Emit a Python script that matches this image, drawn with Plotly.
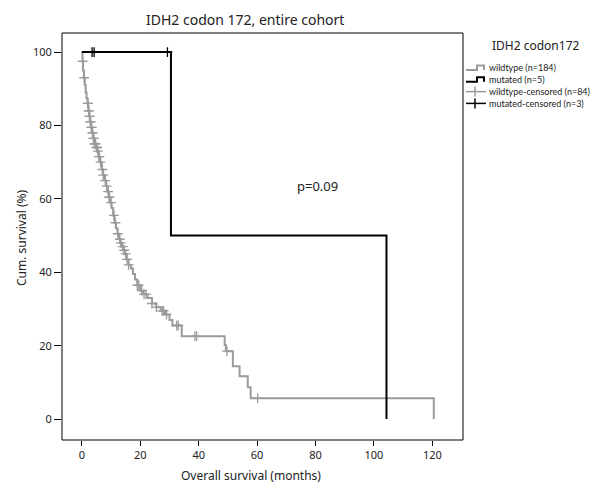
import numpy as np
import plotly.graph_objects as go

# Kaplan-Meier step points (months, % surviving)
wt_time = [0, 0.2, 0.4, 0.7, 1.0, 1.3, 1.6, 1.9, 2.2, 2.5, 2.8, 3.1, 3.5, 3.9, 4.3, 4.8,
           5.3, 5.8, 6.3, 6.8, 7.3, 7.8, 8.3, 8.7, 9.2, 9.7, 10.2, 10.7, 11.2, 11.7, 12.2,
           12.7, 13.2, 13.7, 14.2, 14.7, 15.3, 16.0, 16.8, 17.5, 18.2, 19.0, 20.0, 21.0,
           22.5, 24.0, 25.5, 27.0, 28.5, 30.0, 31.0, 34.2, 48.9, 49.3, 51.7, 54.0, 56.8,
           57.8, 120.5]
wt_surv = [100, 97.5, 95, 93, 91, 89, 87.5, 86, 84, 82.5, 81, 79.5, 78, 76.5, 75, 74,
           73, 71.5, 70, 68, 66.5, 65, 63.5, 62, 60.5, 59, 57.5, 55.5, 53.5, 52, 50.5,
           49, 48, 47, 46, 45, 43.5, 42, 41, 39.5, 38, 36.5, 35, 34, 33, 31.5, 30.5,
           29.5, 28.5, 27, 25.5, 22.6, 20.2, 18.5, 14.4, 11.7, 8.7, 5.7, 0]
wt_censor = [0.3, 0.8, 2.0, 2.1, 2.3, 2.4, 2.6, 2.7, 2.9, 3.0, 3.2, 3.4, 3.6, 3.7, 3.9,
             4.1, 4.3, 4.5, 4.7, 5.0, 5.2, 5.5, 5.8, 6.0, 6.4, 7.0, 7.3, 8.0, 8.5, 9.0,
             9.3, 9.5, 10.0, 11.0, 11.5, 12.3, 13.0, 13.3, 14.0, 14.5, 15.0, 15.5, 16.0,
             19.0, 19.5, 20.5, 21.3, 22.0, 24.0, 25.5, 27.5, 28.0, 29.0, 32.5, 33.0,
             38.7, 39.3, 49.7, 60.2]

mut_time = [0, 30.5, 104.3]
mut_surv = [100, 50, 0]
mut_censor = [3.5, 4.2, 29.3]

legend_labels = ["wildtype (n=184)", "mutated (n=5)", "wildtype-censored (n=84)", "mutated-censored (n=3)"]

GRAY = "#9b9b9b"
# plot area in pixels: left, right, top, bottom
L, R, T, B = 54, 455, 25, 432


def px(x, y):
    return (x - L) / (R - L), (B - y) / (B - T)


def surv_at(times, survs, t):
    idx = np.searchsorted(times, t, side="right") - 1
    return [survs[i] for i in idx]


fig = go.Figure()
fig.add_trace(go.Scatter(x=wt_time, y=wt_surv, mode="lines", line=dict(shape="hv", color=GRAY, width=2),
                         name=legend_labels[0]))
fig.add_trace(go.Scatter(x=mut_time, y=mut_surv, mode="lines", line=dict(shape="hv", color="black", width=2),
                         name=legend_labels[1]))
fig.add_trace(go.Scatter(x=wt_censor, y=surv_at(wt_time, wt_surv, wt_censor), mode="markers",
                         marker=dict(symbol="cross-thin", size=7, line=dict(color=GRAY, width=1.3)),
                         name=legend_labels[2]))
fig.add_trace(go.Scatter(x=mut_censor, y=surv_at(mut_time, mut_surv, mut_censor), mode="markers",
                         marker=dict(symbol="cross-thin", size=7, line=dict(color="black", width=1.3)),
                         name=legend_labels[3]))

axis_common = dict(showline=False, ticks="outside", tickcolor="black", showgrid=False, zeroline=False,
                   tickfont=dict(size=11, color="#222"))

shapes = [dict(type="rect", xref="paper", yref="paper", x0=0, x1=1, y0=0, y1=1,
               line=dict(color="black", width=1), layer="above")]
annotations = []

# hand-drawn legend in the right margin
colors = [GRAY, "black", GRAY, "black"]
for i, (lab, col) in enumerate(zip(legend_labels, colors)):
    yc = 60 + i * 11.8
    if i < 2:
        pts = [(458, yc + 2), (469, yc + 2), (469, yc - 2.5), (476, yc - 2.5), (476, yc + 2)]
        path = "M " + " L ".join(f"{px(a, b)[0]},{px(a, b)[1]}" for a, b in pts)
        shapes.append(dict(type="path", xref="paper", yref="paper", path=path,
                           line=dict(color=col, width=2)))
    else:
        x0, y0 = px(458, yc)
        x1, _ = px(478, yc)
        xm, ya = px(467, yc - 5)
        _, yb = px(467, yc + 5)
        shapes.append(dict(type="line", xref="paper", yref="paper", x0=x0, x1=x1, y0=y0, y1=y0,
                           line=dict(color=col, width=1.5)))
        shapes.append(dict(type="line", xref="paper", yref="paper", x0=xm, x1=xm, y0=ya, y1=yb,
                           line=dict(color=col, width=1.5)))
    tx, ty = px(479, yc)
    annotations.append(dict(text=lab, x=tx, y=ty, xref="paper", yref="paper", xanchor="left",
                            yanchor="middle", showarrow=False, font=dict(size=9, family="Lato")))

tx, ty = px(528, 37)
annotations.append(dict(text="IDH2 codon172", x=tx, y=ty, xref="paper", yref="paper", xanchor="center",
                        yanchor="middle", showarrow=False, font=dict(size=12)))
tx, ty = px(237, 12)
annotations.append(dict(text="IDH2 codon 172, entire cohort", x=tx, y=ty, xref="paper", yref="paper",
                        xanchor="center", yanchor="middle", showarrow=False, font=dict(size=14)))
tx, ty = px(243, 467)
annotations.append(dict(text="Overall survival (months)", x=tx, y=ty, xref="paper", yref="paper",
                        xanchor="center", yanchor="middle", showarrow=False, font=dict(size=12)))
tx, ty = px(13, 230)
annotations.append(dict(text="Cum. survival (%)", x=tx, y=ty, xref="paper", yref="paper",
                        xanchor="center", yanchor="middle", showarrow=False, textangle=-90,
                        font=dict(size=12)))
annotations.append(dict(text="p=0.09", x=80.8, y=63.5, xref="x", yref="y", showarrow=False,
                        font=dict(size=13)))

fig.update_layout(
    width=600, height=485,
    margin=dict(l=L, r=600 - R, t=T, b=485 - B, autoexpand=False),
    plot_bgcolor="white", paper_bgcolor="white",
    font=dict(family="Noto Sans", color="#222"),
    showlegend=False,
    xaxis=dict(range=[-6.8, 130.5], tickvals=[0, 20, 40, 60, 80, 100, 120], ticklen=5, **axis_common),
    yaxis=dict(range=[-5.7, 105.2], tickvals=[0, 20, 40, 60, 80, 100], ticklen=7, **axis_common),
    shapes=shapes,
    annotations=annotations,
)

fig.write_html("out.html")
